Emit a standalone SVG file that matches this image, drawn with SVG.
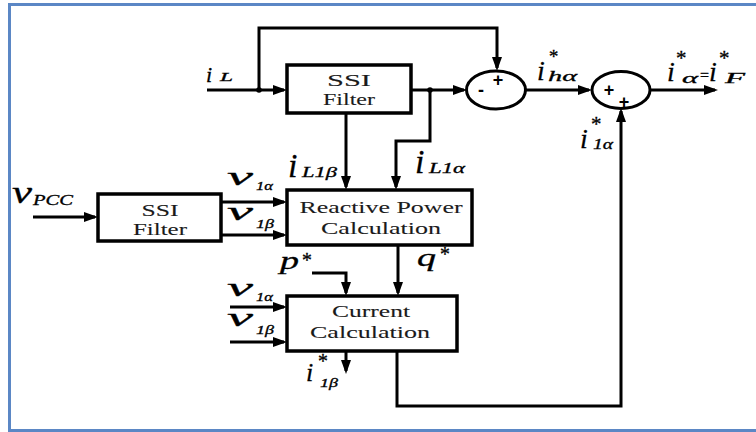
<svg xmlns="http://www.w3.org/2000/svg" width="756" height="432" viewBox="0 0 756 432">
<style>
.box{fill:#fff;stroke:#000;stroke-width:3.5}
.ell{fill:#fff;stroke:#000;stroke-width:3}
.w{fill:none;stroke:#000;stroke-width:3;marker-end:url(#ah)}
.bt{font-family:'Liberation Serif','Times New Roman',serif;font-size:17px;fill:#1a1a1a;stroke:#1a1a1a;stroke-width:0.1;text-anchor:middle}
.v{font-family:'Liberation Serif','Times New Roman',serif;font-style:italic;fill:#000;stroke:#000;stroke-width:0.3}
.s{font-family:'Liberation Sans',Arial,sans-serif;font-weight:bold;font-size:18px;fill:#000;text-anchor:middle}
</style>
<defs>
<marker id="ah" viewBox="0 0 14 10" refX="11" refY="5" markerWidth="14" markerHeight="10" markerUnits="userSpaceOnUse" orient="auto">
<path d="M0,0 L14,5 L0,10 Z" fill="#000"/>
</marker>
</defs>
<rect width="756" height="432" fill="#fff"/>
<g id="frame" fill="none" stroke="#5b87c5" stroke-width="3">
<path d="M756,4.5 H9.5 V430.5 H756"/>
</g>
<g id="connectors">
<path class="w" d="M207,90 H284"/>
<circle cx="259" cy="90" r="2.8" fill="#000"/>
<path class="w" d="M259,90 V28 H497 V68"/>
<path class="w" d="M411,90 H464"/>
<circle cx="430" cy="90" r="2.8" fill="#000"/>
<path class="w" d="M430,90 V141 H396 V187"/>
<path class="w" d="M346,113 V187"/>
<path class="w" d="M525.5,90 H589"/>
<path class="w" d="M650,90 H715"/>
<path class="w" d="M33,217 H95"/>
<path class="w" d="M221,202 H284"/>
<path class="w" d="M221,235 H284"/>
<path class="w" d="M398,245 V293"/>
<path class="w" d="M312,273 H346 V293"/>
<path class="w" d="M230,307 H284"/>
<path class="w" d="M230,342 H284"/>
<path class="w" d="M346,351 V371"/>
<path class="w" d="M397,351 V406 H621 V111"/>
</g>
<g id="ssi1">
<rect class="box" x="287" y="65" width="124" height="48"/>
<text class="bt" x="349" y="86" textLength="44" lengthAdjust="spacingAndGlyphs">SSI</text>
<text class="bt" x="349" y="105" textLength="52" lengthAdjust="spacingAndGlyphs">Filter</text>
</g>
<g id="ssi2">
<rect class="box" x="98" y="194" width="123" height="47"/>
<text class="bt" x="160" y="216" textLength="37" lengthAdjust="spacingAndGlyphs">SSI</text>
<text class="bt" x="160" y="235" textLength="54" lengthAdjust="spacingAndGlyphs">Filter</text>
</g>
<g id="reactive">
<rect class="box" x="287" y="190" width="185" height="55"/>
<text class="bt" x="381" y="213" textLength="163" lengthAdjust="spacingAndGlyphs">Reactive Power</text>
<text class="bt" x="381" y="234" textLength="120" lengthAdjust="spacingAndGlyphs">Calculation</text>
</g>
<g id="current">
<rect class="box" x="287" y="296" width="170" height="55"/>
<text class="bt" x="371" y="317" textLength="78" lengthAdjust="spacingAndGlyphs">Current</text>
<text class="bt" x="370" y="338" textLength="120" lengthAdjust="spacingAndGlyphs">Calculation</text>
</g>
<g id="sum1">
<ellipse class="ell" cx="496" cy="90" rx="29.5" ry="19"/>
<text class="s" x="481" y="96">-</text>
<text class="s" x="498" y="86">+</text>
</g>
<g id="sum2">
<ellipse class="ell" cx="621" cy="90" rx="29" ry="18.5"/>
<text class="s" x="609" y="96">+</text>
<text class="s" x="624" y="108">+</text>
</g>
<g id="labels">
<text class="v"><tspan x="206" y="82" font-size="22">i</tspan><tspan x="220" y="81" font-size="13" textLength="13" lengthAdjust="spacingAndGlyphs">L</tspan></text>
<text class="v"><tspan x="288" y="177" font-size="34">i</tspan><tspan x="302" y="177" font-size="15" textLength="35" lengthAdjust="spacingAndGlyphs">L1β</tspan></text>
<text class="v"><tspan x="415" y="173" font-size="34">i</tspan><tspan x="429" y="173" font-size="15" textLength="36" lengthAdjust="spacingAndGlyphs">L1α</tspan></text>
<text class="v"><tspan x="12" y="203" font-size="32" textLength="20" lengthAdjust="spacingAndGlyphs">v</tspan><tspan x="33" y="205" font-size="14" textLength="40" lengthAdjust="spacingAndGlyphs">PCC</tspan></text>
<text class="v"><tspan x="227" y="185" font-size="26" textLength="26" lengthAdjust="spacingAndGlyphs">v</tspan><tspan x="256" y="190" font-size="13" textLength="17" lengthAdjust="spacingAndGlyphs">1α</tspan></text>
<text class="v"><tspan x="227" y="220" font-size="26" textLength="26" lengthAdjust="spacingAndGlyphs">v</tspan><tspan x="256" y="228" font-size="13" textLength="18" lengthAdjust="spacingAndGlyphs">1β</tspan></text>
<text class="v"><tspan x="280" y="269" font-size="26" textLength="19" lengthAdjust="spacingAndGlyphs">p</tspan><tspan x="301" y="267" font-size="20">*</tspan></text>
<text class="v"><tspan x="417" y="266" font-size="25" textLength="19" lengthAdjust="spacingAndGlyphs">q</tspan><tspan x="439" y="261" font-size="20">*</tspan></text>
<text class="v"><tspan x="227" y="296" font-size="26" textLength="26" lengthAdjust="spacingAndGlyphs">v</tspan><tspan x="256" y="301" font-size="13" textLength="17" lengthAdjust="spacingAndGlyphs">1α</tspan></text>
<text class="v"><tspan x="227" y="326" font-size="26" textLength="26" lengthAdjust="spacingAndGlyphs">v</tspan><tspan x="256" y="334" font-size="13" textLength="18" lengthAdjust="spacingAndGlyphs">1β</tspan></text>
<text class="v"><tspan x="306" y="381" font-size="26">i</tspan><tspan x="317" y="368" font-size="20">*</tspan><tspan x="320" y="387" font-size="13" textLength="18" lengthAdjust="spacingAndGlyphs">1β</tspan></text>
<text class="v"><tspan x="537" y="80" font-size="28">i</tspan><tspan x="548" y="63" font-size="19">*</tspan><tspan x="548" y="81" font-size="15" textLength="29" lengthAdjust="spacingAndGlyphs">hα</tspan></text>
<text class="v"><tspan x="667" y="81" font-size="28">i</tspan><tspan x="675" y="65" font-size="21">*</tspan><tspan x="682" y="83" font-size="15" textLength="16" lengthAdjust="spacingAndGlyphs">α</tspan><tspan x="700" y="81" font-size="16" font-style="normal">=</tspan><tspan x="709" y="81" font-size="28">i</tspan><tspan x="718" y="65" font-size="21">*</tspan><tspan x="725" y="83" font-size="15" textLength="20" lengthAdjust="spacingAndGlyphs">F</tspan></text>
<text class="v"><tspan x="580" y="148" font-size="28">i</tspan><tspan x="590" y="131" font-size="21">*</tspan><tspan x="593" y="149" font-size="14" textLength="20" lengthAdjust="spacingAndGlyphs">1α</tspan></text>
</g>
</svg>
